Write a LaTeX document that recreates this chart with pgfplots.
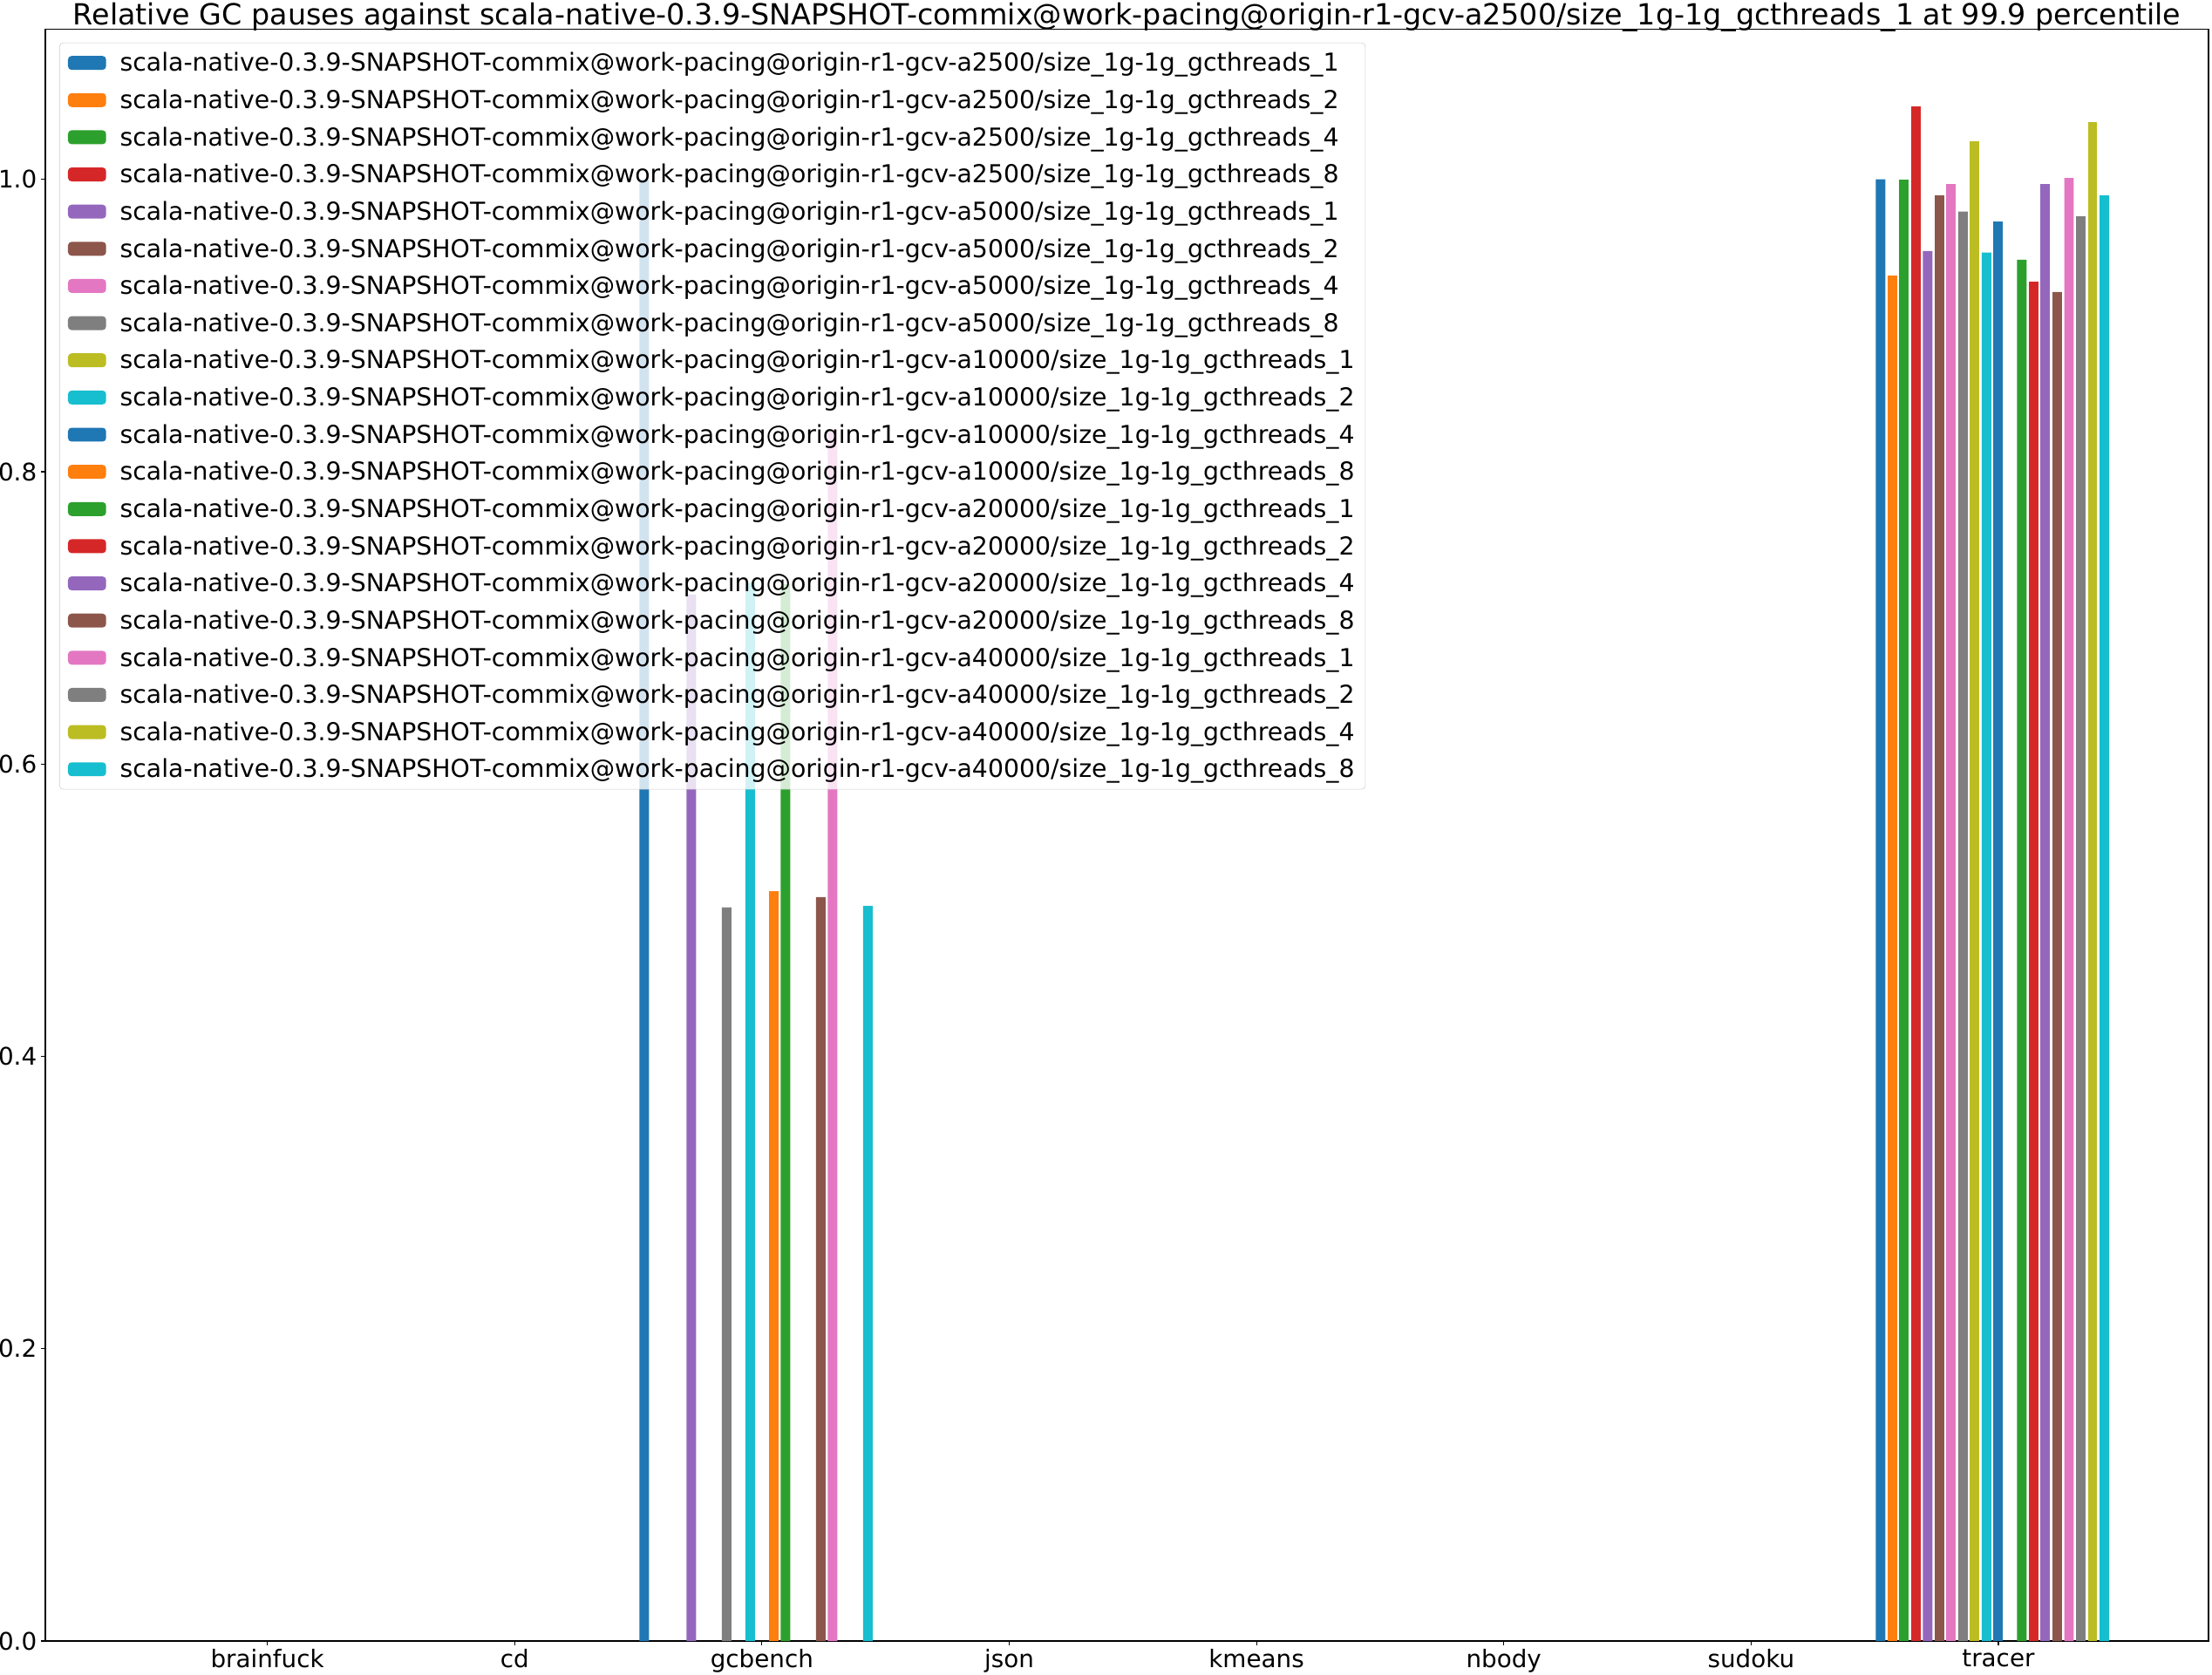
\documentclass[border=0pt]{standalone}
\usepackage{fontspec}
\setmainfont{DejaVu Sans}
\usepackage{pgfplots}
\pgfplotsset{compat=1.18}
\definecolor{c0}{HTML}{1F77B4}
\definecolor{c1}{HTML}{FF7F0E}
\definecolor{c2}{HTML}{2CA02C}
\definecolor{c3}{HTML}{D62728}
\definecolor{c4}{HTML}{9467BD}
\definecolor{c5}{HTML}{8C564B}
\definecolor{c6}{HTML}{E377C2}
\definecolor{c7}{HTML}{7F7F7F}
\definecolor{c8}{HTML}{BCBD22}
\definecolor{c9}{HTML}{17BECF}
\definecolor{legedge}{HTML}{CCCCCC}
\newcommand{\nm}[2]{scala-native-0.3.9-SNAPSHOT-commix@work-pacing@origin-r1-gcv-a#1/size\_1g-1g\_gcthreads\_#2}
\begin{document}
\begin{tikzpicture}
\begin{axis}[
  at={(0,0)}, anchor=south west,
  scale only axis, width=1786.3pt, height=1330.6pt,
  xmin=-0.8976, xmax=7.8500, ymin=0, ymax=1.1025,
  ybar, bar width=0.0387,
  xtick={0,1,2,3,4,5,6,7},
  xticklabels={brainfuck,cd,gcbench,json,kmeans,nbody,sudoku,tracer},
  ytick={0,0.2,0.4,0.6,0.8,1.0},
  yticklabel style={/pgf/number format/.cd, fixed, fixed zerofill, precision=1},
  /pgf/number format/assume math mode=true,
  tick label style={font=\fontsize{20}{24}\selectfont},
  tick align=outside, major tick length=3.5pt, tick pos=left,
  axis line style={line width=0.8pt},
  tick style={black, line width=0.8pt},
  title={Relative GC pauses against scala-native-0.3.9-SNAPSHOT-commix@work-pacing@origin-r1-gcv-a2500/size\_1g-1g\_gcthreads\_1 at 99.9 percentile},
  title style={font=\fontsize{24}{28}\selectfont, yshift=-11pt},
  legend style={at={(0,1)}, anchor=north west, xshift=11.5pt, yshift=-10.8pt,
    draw=legedge, fill=white, fill opacity=0.8, text opacity=1, draw opacity=1,
    rounded corners=3pt, font=\fontsize{20.4}{24}\selectfont,
    inner xsep=7pt, inner ysep=6pt, row sep=9.7pt, column sep=9.4pt,
    cells={anchor=west, inner sep=0pt}},
  legend image code/.code={\fill[#1, fill opacity=1, draw=none] (0pt,-5.75pt) rectangle (31.5pt,5.75pt);},
]
\addplot[fill=c0, draw=none, bar shift=0pt] coordinates {(1.52381,1.000) (6.52381,1.000)};
\addlegendentry{\nm{2500}{1}}
\addplot[fill=c1, draw=none, bar shift=0pt] coordinates {(6.57143,0.934)};
\addlegendentry{\nm{2500}{2}}
\addplot[fill=c2, draw=none, bar shift=0pt] coordinates {(6.61905,1.000)};
\addlegendentry{\nm{2500}{4}}
\addplot[fill=c3, draw=none, bar shift=0pt] coordinates {(6.66667,1.050)};
\addlegendentry{\nm{2500}{8}}
\addplot[fill=c4, draw=none, bar shift=0pt] coordinates {(1.71429,0.716) (6.71429,0.951)};
\addlegendentry{\nm{5000}{1}}
\addplot[fill=c5, draw=none, bar shift=0pt] coordinates {(6.76190,0.989)};
\addlegendentry{\nm{5000}{2}}
\addplot[fill=c6, draw=none, bar shift=0pt] coordinates {(6.80952,0.997)};
\addlegendentry{\nm{5000}{4}}
\addplot[fill=c7, draw=none, bar shift=0pt] coordinates {(1.85714,0.502) (6.85714,0.978)};
\addlegendentry{\nm{5000}{8}}
\addplot[fill=c8, draw=none, bar shift=0pt] coordinates {(6.90476,1.026)};
\addlegendentry{\nm{10000}{1}}
\addplot[fill=c9, draw=none, bar shift=0pt] coordinates {(1.95238,0.724) (6.95238,0.950)};
\addlegendentry{\nm{10000}{2}}
\addplot[fill=c0, draw=none, bar shift=0pt] coordinates {(7.00000,0.971)};
\addlegendentry{\nm{10000}{4}}
\addplot[fill=c1, draw=none, bar shift=0pt] coordinates {(2.04762,0.513)};
\addlegendentry{\nm{10000}{8}}
\addplot[fill=c2, draw=none, bar shift=0pt] coordinates {(2.09524,0.723) (7.09524,0.945)};
\addlegendentry{\nm{20000}{1}}
\addplot[fill=c3, draw=none, bar shift=0pt] coordinates {(7.14286,0.930)};
\addlegendentry{\nm{20000}{2}}
\addplot[fill=c4, draw=none, bar shift=0pt] coordinates {(7.19048,0.997)};
\addlegendentry{\nm{20000}{4}}
\addplot[fill=c5, draw=none, bar shift=0pt] coordinates {(2.23810,0.509) (7.23810,0.923)};
\addlegendentry{\nm{20000}{8}}
\addplot[fill=c6, draw=none, bar shift=0pt] coordinates {(2.28571,0.829) (7.28571,1.001)};
\addlegendentry{\nm{40000}{1}}
\addplot[fill=c7, draw=none, bar shift=0pt] coordinates {(7.33333,0.975)};
\addlegendentry{\nm{40000}{2}}
\addplot[fill=c8, draw=none, bar shift=0pt] coordinates {(7.38095,1.039)};
\addlegendentry{\nm{40000}{4}}
\addplot[fill=c9, draw=none, bar shift=0pt] coordinates {(2.42857,0.503) (7.42857,0.989)};
\addlegendentry{\nm{40000}{8}}
\end{axis}
\pgfresetboundingbox
\path[use as bounding box] (-37.44pt,-27.36pt) rectangle (1789.2pt,1355.04pt);
\end{tikzpicture}
\end{document}
